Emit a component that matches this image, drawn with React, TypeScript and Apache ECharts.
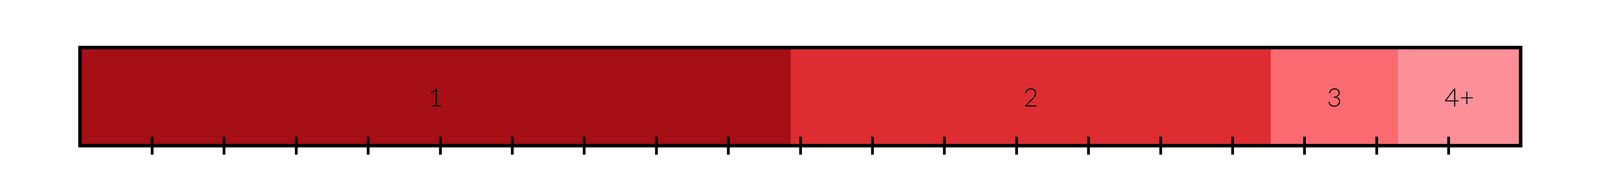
import { useEffect, useRef } from 'react';
import * as echarts from 'echarts';

// one stacked bar, split into household-size groups (axis 0..20)
const groups = ['1', '2', '3', '4+'];
const groupValues = [9.87, 6.66, 1.77, 1.70];
const groupColors = ['#A50F15', '#DE2D30', '#FA6A70', '#FC8F98'];
const category = [''];
// ticks sit on every whole unit, except at both ends (those are hidden by the frame)
const tickValues = [1, 2, 3, 4, 5, 6, 7, 8, 9, 10, 11, 12, 13, 14, 15, 16, 17, 18, 19];

const App = () => {
  const chartRef = useRef<HTMLDivElement>(null);

  useEffect(() => {
    if (!chartRef.current) return;
    const chart = echarts.init(chartRef.current, null, { renderer: 'svg' });

    const tickAxis = (inside: boolean) => ({
      type: 'value',
      position: 'bottom',
      min: 0,
      max: 20,
      interval: 1,
      z: 6,
      axisLine: { show: false },
      axisLabel: { show: false },
      splitLine: { show: false },
      axisTick: {
        show: true,
        inside,
        length: 23,
        customValues: tickValues,
        lineStyle: { color: '#000', width: 7 }
      }
    });

    chart.setOption({
      animation: false,
      grid: {
        left: '5%',
        right: '4.96%',
        top: 122,
        bottom: 126.5,
        show: true,
        z: 5,
        backgroundColor: 'transparent',
        borderColor: '#000',
        borderWidth: 9
      },
      xAxis: [tickAxis(true), tickAxis(false)],
      yAxis: {
        type: 'category',
        data: category,
        show: false
      },
      series: groups.map((name, i) => ({
        name,
        type: 'bar',
        stack: 'total',
        xAxisIndex: 0,
        barWidth: '100%',
        data: [groupValues[i]],
        itemStyle: { color: groupColors[i] },
        label: {
          show: true,
          position: 'inside',
          formatter: '{a}',
          color: '#000',
          fontFamily: 'Lato',
          fontWeight: 300,
          fontSize: 66
        }
      }))
    });

    const onResize = () => chart.resize();
    window.addEventListener('resize', onResize);
    return () => {
      window.removeEventListener('resize', onResize);
      chart.dispose();
    };
  }, []);

  return (
    <div
      ref={chartRef}
      style={{ position: 'absolute', left: 0, top: 0, width: '100vw', height: '500px' }}
    />
  );
};

export default App;
